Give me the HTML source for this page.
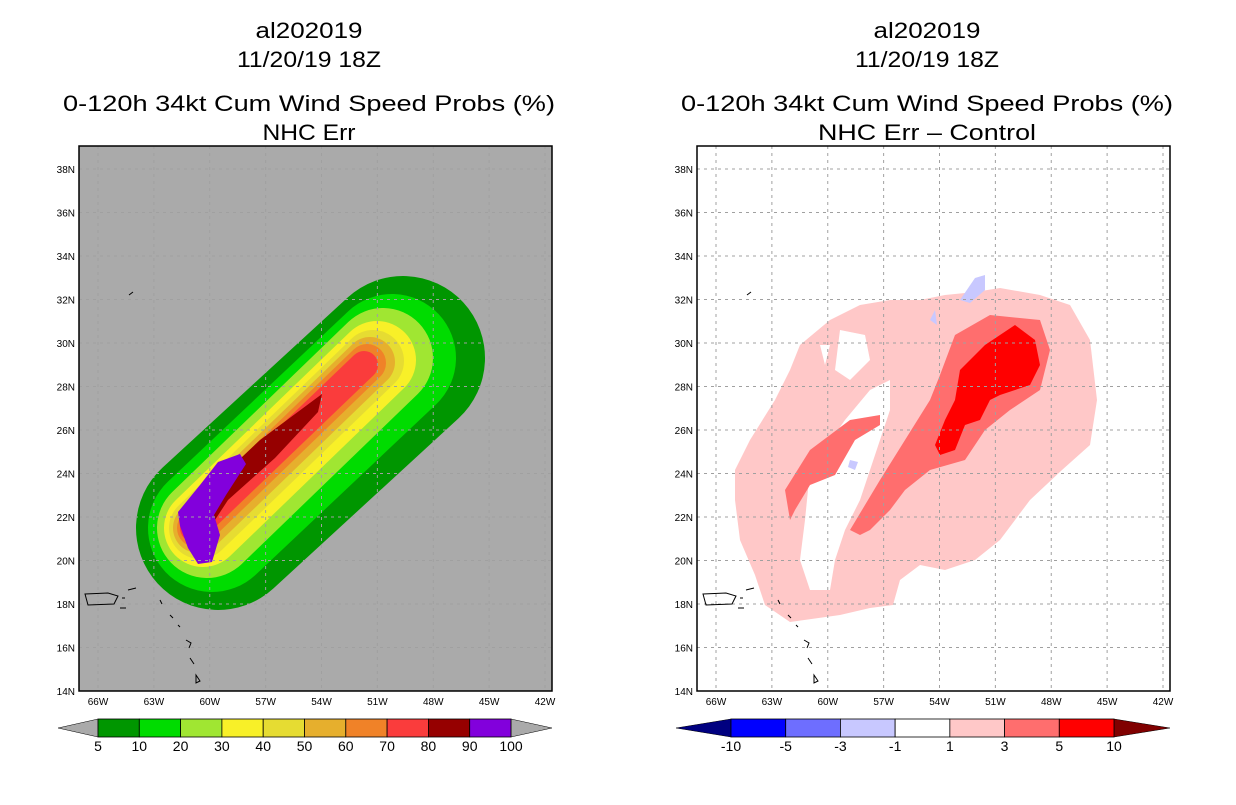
<!DOCTYPE html>
<html><head><meta charset="utf-8"><style>
body{margin:0;background:#fff;width:1236px;height:800px;overflow:hidden}
text{font-family:"Liberation Sans",sans-serif;fill:#000}
</style></head><body>
<svg id="s" width="1236" height="800" xmlns="http://www.w3.org/2000/svg"></svg>
<script>
const NS="http://www.w3.org/2000/svg";
const svg=document.getElementById('s');
const latTicks=[14,16,18,20,22,24,26,28,30,32,34,36,38];
const lonTicks=[66,63,60,57,54,51,48,45,42];
const leftLevels=["5","10","20","30","40","50","60","70","80","90","100"];
const leftColors=["#009600","#00dc00","#a0e632","#f8f028","#e6dc32","#e6af2d","#f08228","#fa3c3c","#960000","#8200dc"];
const rightLevels=["-10","-5","-3","-1","1","3","5","10"];
const rightColors=["#0000ff","#6e6eff","#c8c8ff","#ffffff","#ffc8c8","#ff6e6e","#ff0000"];
// capsule contours: [x1,y1,x2,y2,radius] per level (left panel screen space)
const capsules=[[218,528,403,358,82],[212,528,392,358,64],[207,528,383,358,50],[203,528,377,360,39],[200,528,373,361,31],[198,528,370,362,25],[196,528,367,363,19],[194,528,364,365,14]];
function el(t,a,p){const e=document.createElementNS(NS,t);for(const k in a)e.setAttribute(k,a[k]);(p||svg).appendChild(e);return e;}
function txt(x,y,s,size,anchor,p){const t=el('text',{x:x,y:y,'font-size':size,'text-anchor':anchor||'middle'},p);t.textContent=s;return t;}
function panel(name){
 const g=el('g',{});
 
 
 return g;
}
function X(x0,lon){return x0+19+(66-lon)/3*55.875;}
function Y(lat){return 691-(lat-14)/2*43.5;}
function grid(x0,g){
 latTicks.forEach(l=>{if(l>14){el('line',{x1:x0,x2:x0+473,y1:Y(l),y2:Y(l),stroke:'#a0a0a0','stroke-dasharray':'3,4'},g);}
  const t=txt(x0-4,Y(l)+4,l+'N',10,'end',g);});
 lonTicks.forEach(l=>{el('line',{x1:X(x0,l),x2:X(x0,l),y1:146,y2:691,stroke:'#a0a0a0','stroke-dasharray':'3,4'},g);
  const t=txt(X(x0,l),705,l+'W',10,'middle',g);});
}
function islands(dx,g){
 el('path',{d:`M${85+dx} 594 L${108+dx} 593 L${118+dx} 596 L${114+dx} 604 L${88+dx} 605 Z M${122+dx} 598 l3 0 M${128+dx} 590 l8 -2 M${129+dx} 295 l4 -3 M${160+dx} 600 l2 4 M${170+dx} 615 l3 3 M${178+dx} 625 l2 2 M${186+dx} 640 l5 3 l-2 5 M${190+dx} 658 l4 6 M${196+dx} 675 l4 6 l-4 2 Z M${120+dx} 608 l6 0`,fill:'none',stroke:'#000','stroke-width':1},g);
}
function titles(cx,line4,len4){
 [["al202019",38,107],["11/20/19 18Z",67,144],["0-120h 34kt Cum Wind Speed Probs (%)",111,492],[line4,140,len4]].forEach(a=>{
  const t=txt(cx,a[1],a[0],22);t.setAttribute('textLength',a[2]);t.setAttribute('lengthAdjust','spacingAndGlyphs');
  });
}
// LEFT
const L=panel('left-map-panel');
el('rect',{x:79,y:146,width:473,height:545,fill:'#aaaaaa'},L);
capsules.forEach((c,i)=>{
 const ln=el('line',{x1:c[0],y1:c[1],x2:c[2],y2:c[3],stroke:leftColors[i],'stroke-width':c[4]*2,'stroke-linecap':'round'},L);
 
 
});
let p=el('polygon',{points:'205,492 260,440 322,394 318,412 275,458 228,500 215,520',fill:leftColors[8]},L);

p=el('polygon',{points:'178,512 200,485 218,462 240,454 246,464 226,495 214,515 220,535 212,562 198,564 188,548 180,526',fill:leftColors[9]},L);

grid(79,L);islands(0,L);
el('rect',{x:79,y:146,width:473,height:545,fill:'none',stroke:'#000','stroke-width':1.5},L);
titles(309,"NHC Err",93);
// RIGHT
const R=panel('right-map-panel');
el('rect',{x:697,y:146,width:473,height:545,fill:'#fff'},R);
const rp=[
 ['pink','#ffc8c8','735,470 750,440 775,400 790,370 800,345 830,320 860,305 890,300 920,300 945,295 975,292 1000,288 1040,295 1070,305 1090,340 1097,400 1090,445 1062,470 1030,500 1000,540 975,560 945,570 920,565 900,580 893,605 870,608 840,615 790,622 765,605 755,575 740,540 735,500'],
 ['white-hole','#ffffff','805,520 810,470 845,420 870,390 890,380 890,410 880,440 870,470 860,500 845,530 835,560 830,590 810,590 800,560'],
 ['white-hole','#ffffff','840,330 865,335 870,360 850,380 835,370'],
 ['white-hole','#ffffff','820,345 830,345 825,365'],
 ['band-left','#ff6e6e','785,490 810,450 850,420 880,415 880,425 855,440 835,475 810,485 795,510 790,520'],
 ['band-main','#ff6e6e','850,530 880,480 930,400 940,375 955,335 990,315 1040,320 1050,350 1040,390 1010,410 985,430 965,460 930,470 905,490 890,510 870,530 860,535'],
 ['red-core','#ff0000','955,400 960,370 985,345 1015,325 1035,340 1040,365 1030,385 1000,395 990,400 980,420 965,425 955,450 940,455 935,445 945,420'],
 ['blue-blob','#c8c8ff','960,300 975,278 985,275 985,290 970,303'],
 ['blue-blob','#c8c8ff','930,320 935,310 937,325'],
 ['blue-blob','#c8c8ff','850,460 858,462 855,470 848,467']];
rp.forEach(r=>{const q=el('polygon',{points:r[2],fill:r[1]},R);});
grid(697,R);islands(618,R);
el('rect',{x:697,y:146,width:473,height:545,fill:'none',stroke:'#000','stroke-width':1.5},R);
titles(927,"NHC Err \u2013 Control",218);
// colorbars
function colorbar(x0,x1,tl,tr,colors,labels,endL,endR,name){
 const g=el('g',{});
 const w=(x1-x0)/colors.length;
 el('polygon',{points:`${tl},728 ${x0},719 ${x0},737`,fill:endL,stroke:'#000','stroke-width':0.5},g);
 el('polygon',{points:`${x1},719 ${tr},728 ${x1},737`,fill:endR,stroke:'#000','stroke-width':0.5},g);
 colors.forEach((c,i)=>{const r=el('rect',{x:x0+i*w,y:719,width:w,height:18,fill:c,stroke:'#000','stroke-width':0.8},g);
  });
 labels.forEach((s,i)=>{const t=txt(x0+i*w,751,s,14,'middle',g);});
}
colorbar(98,511,58,552,leftColors,leftLevels,'#aaaaaa','#aaaaaa','left-colorbar');
colorbar(731,1114,676,1170,rightColors,rightLevels,'#000080','#800000','right-colorbar');
</script>
</body></html>
